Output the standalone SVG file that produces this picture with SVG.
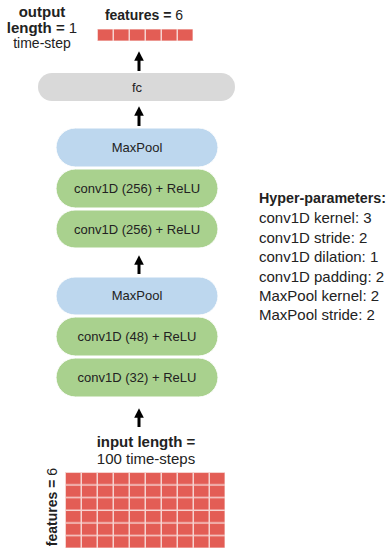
<svg xmlns="http://www.w3.org/2000/svg" width="390" height="550" viewBox="0 0 390 550">
<defs>
<style>
text{font-family:"Liberation Sans",Arial,sans-serif;fill:#222;}
.b{font-weight:bold;}
.lbl{font-size:13px;text-anchor:middle;}
.hp{font-size:15px;}
.pool{fill:#BDD7EE;stroke:#fff;stroke-width:1;}
.conv{fill:#A9D18E;stroke:#fff;stroke-width:1;}
.fc{fill:#D9D9D9;}
.arrow{stroke:#000;stroke-width:3;fill:none;marker-end:url(#ah);}
</style>
<marker id="ah" viewBox="0 0 10 10" refX="5" refY="5" markerWidth="3.6" markerHeight="3.2" orient="auto" markerUnits="strokeWidth">
<path d="M0,0 L10,5 L0,10 z" fill="#000"/>
</marker>
<pattern id="grid" x="65" y="472" width="16" height="12.67" patternUnits="userSpaceOnUse">
<rect width="16" height="12.67" fill="#F6D3D0"/>
<rect x="1" y="1" width="14.5" height="11.2" fill="#E35D55"/>
</pattern>
<pattern id="grid2" x="97" y="29" width="16" height="12" patternUnits="userSpaceOnUse">
<rect width="16" height="12" fill="#F6D3D0"/>
<rect x="1" y="0.5" width="14.5" height="11" fill="#E35D55"/>
</pattern>
</defs>

<g id="output">
<text class="b" x="42" y="17" font-size="15" text-anchor="middle">output</text>
<text x="42" y="33" font-size="15" text-anchor="middle"><tspan class="b">length =</tspan> 1</text>
<text x="42" y="48" font-size="14" text-anchor="middle">time-step</text>
<text x="144" y="20" font-size="14" text-anchor="middle"><tspan class="b">features =</tspan> 6</text>
<rect x="97" y="29" width="96" height="12" fill="url(#grid2)"/>
</g>

<g id="fc">
<rect class="fc" x="38" y="73" width="197" height="28" rx="14"/>
<text class="lbl" x="137" y="92">fc</text>
</g>

<g id="maxpool2">
<rect class="pool" x="56" y="128" width="162" height="39" rx="19.5"/>
<text class="lbl" x="137" y="152">MaxPool</text>
</g>
<g id="conv256b">
<rect class="conv" x="56" y="169" width="162" height="39" rx="19.5"/>
<text class="lbl" x="137" y="193">conv1D (256) + ReLU</text>
</g>
<g id="conv256a">
<rect class="conv" x="56" y="210" width="162" height="38" rx="19"/>
<text class="lbl" x="137" y="234">conv1D (256) + ReLU</text>
</g>

<g id="maxpool1">
<rect class="pool" x="56" y="277" width="162" height="38" rx="19"/>
<text class="lbl" x="137" y="300">MaxPool</text>
</g>
<g id="conv48">
<rect class="conv" x="56" y="317" width="162" height="39" rx="19.5"/>
<text class="lbl" x="137" y="341">conv1D (48) + ReLU</text>
</g>
<g id="conv32">
<rect class="conv" x="56" y="358" width="162" height="39" rx="19.5"/>
<text class="lbl" x="137" y="382">conv1D (32) + ReLU</text>
</g>

<g id="input">
<text class="b" x="146" y="447" font-size="15" text-anchor="middle">input length =</text>
<text x="146" y="464" font-size="15" text-anchor="middle">100 time-steps</text>
<text x="57" y="507" font-size="14" text-anchor="middle" transform="rotate(-90 57 507)"><tspan class="b">features =</tspan> 6</text>
<rect x="65" y="472" width="160" height="76" fill="url(#grid)"/>
</g>

<g id="hyperparameters">
<text class="b" x="259" y="203" font-size="14" textLength="127" lengthAdjust="spacingAndGlyphs">Hyper-parameters:</text>
<text class="hp" x="259" y="223">conv1D kernel: 3</text>
<text class="hp" x="259" y="243">conv1D stride: 2</text>
<text class="hp" x="259" y="262">conv1D dilation: 1</text>
<text class="hp" x="259" y="282">conv1D padding: 2</text>
<text class="hp" x="259" y="301">MaxPool kernel: 2</text>
<text class="hp" x="259" y="320">MaxPool stride: 2</text>
</g>

<g id="connectors">
<line class="arrow" x1="139" y1="71" x2="139" y2="56"/>
<line class="arrow" x1="139" y1="126" x2="139" y2="111"/>
<line class="arrow" x1="139" y1="274" x2="139" y2="260"/>
<line class="arrow" x1="139" y1="427" x2="139" y2="413"/>
</g>
</svg>
